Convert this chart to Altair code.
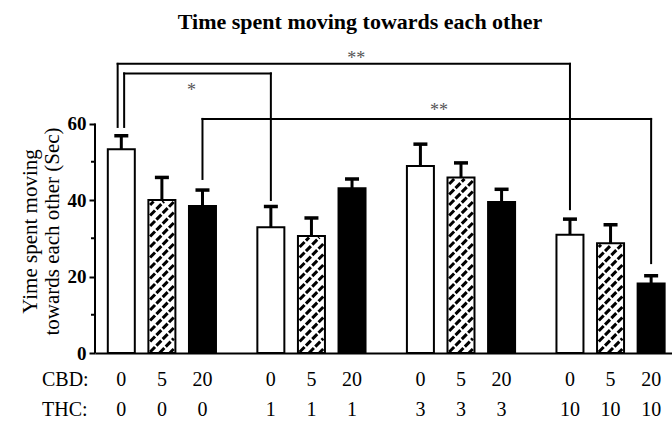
import altair as alt
import pandas as pd

# ---------------- data ----------------
cbd_labels = ["0", "5", "20", "0", "5", "20", "0", "5", "20", "0", "5", "20"]
thc_labels = ["0", "0", "0", "1", "1", "1", "3", "3", "3", "10", "10", "10"]
group_idx = [0, 0, 0, 1, 1, 1, 2, 2, 2, 3, 3, 3]
bar_idx = [0, 1, 2, 0, 1, 2, 0, 1, 2, 0, 1, 2]
fill_kind = ["open", "hatched", "solid"] * 4
means = [53.3, 40.0, 38.4, 32.9, 30.6, 43.1, 48.9, 45.9, 39.5, 30.9, 28.7, 18.2]
sems = [3.5, 5.9, 4.2, 5.4, 4.7, 2.4, 5.7, 3.8, 3.3, 4.1, 4.8, 2.0]

# significance brackets (bar indices, bracket level, end heights, label)
br_from = [0, 0, 2]
br_to = [9, 3, 11]
br_level = [75.6, 73.1, 61.2]
br_from_end = [59.1, 59.1, 45.5]
br_to_end = [37.6, 40.0, 23.5]
br_label = ["**", "*", "**"]
br_label_x = [5.79, 1.73, 7.83]
br_label_y = [78.0, 69.6, 64.4]

row_names = ["CBD:", "THC:"]
title_text = "Time spent moving towards each other"
y_title = ["Yime spent moving", "towards each other (Sec)"]
y_ticks = [0, 20, 40, 60]
y_minor = [10, 30, 50]

# ---------------- layout constants ----------------
W, H = 577, 306
XMIN, XMAX = -0.525, 13.446
YMAX = 80
GROUP_STEP = 3.685
BW = 27
PX_X = W / (XMAX - XMIN)
PX_Y = H / YMAX
SERIF = "Liberation Serif"

pos = [g * GROUP_STEP + b for g, b in zip(group_idx, bar_idx)]
df = pd.DataFrame({
    "pos": pos, "mean": means, "sem": sems, "fill": fill_kind,
    "cbd": cbd_labels, "thc": thc_labels,
})
df["top"] = df["mean"] + df["sem"]

# hatch stripes derived from bar geometry
hatch_rows = []
SP = 10.5
inset = 1.5
for p, m, k in zip(pos, means, fill_kind):
    if k != "hatched":
        continue
    w = BW - 2 * inset
    h = m * PX_Y - inset
    c = -w + 4
    while c < h:
        u0 = max(0.0, -c)
        u1 = min(w, h - c)
        if u1 > u0:
            x0 = p - BW / 2 / PX_X + (inset + u0) / PX_X
            x1 = p - BW / 2 / PX_X + (inset + u1) / PX_X
            hatch_rows.append({"x": x0, "x2": x1,
                               "y": (u0 + c) / PX_Y, "y2": (u1 + c) / PX_Y})
        c += SP
hatch_df = pd.DataFrame(hatch_rows)

nudge = [-0.09, 0.07, 0.0]
bdf = pd.DataFrame({
    "xf": [pos[i] + n for i, n in zip(br_from, nudge)],
    "xt": [pos[i] for i in br_to],
    "lvl": br_level, "yf": br_from_end, "yt": br_to_end,
    "lab": br_label, "lx": br_label_x, "ly": br_label_y,
})

xscale = alt.Scale(domain=[XMIN, XMAX], nice=False, zero=False)
yscale = alt.Scale(domain=[0, YMAX], nice=False)

bars = alt.Chart(df).mark_bar(width=BW, stroke="black", strokeWidth=2).encode(
    x=alt.X("pos:Q", scale=xscale,
            axis=alt.Axis(domain=True, domainWidth=2, domainColor="black",
                          ticks=False, labels=False, grid=False, title=None)),
    y=alt.Y("mean:Q", scale=yscale,
            axis=alt.Axis(values=y_ticks, domain=False, tickSize=6, tickWidth=2,
                          tickColor="black", labelFont=SERIF, labelFontWeight="bold",
                          labelFontSize=19, labelColor="black", labelPadding=3,
                          grid=False, title=y_title, titleFont=SERIF,
                          titleFontSize=21, titleFontWeight="normal",
                          titleColor="black", titleLineHeight=22,
                          titleX=-55, titleY=184)),
    fill=alt.Fill("fill:N", scale=alt.Scale(domain=["open", "hatched", "solid"],
                                            range=["white", "white", "black"]),
                  legend=None),
)

hatch = alt.Chart(hatch_df).mark_rule(color="black", strokeWidth=3,
                                      strokeDash=[7, 2]).encode(
    x="x:Q", x2="x2:Q", y="y:Q", y2="y2:Q")

err = alt.Chart(df).mark_rule(color="black", strokeWidth=3).encode(
    x="pos:Q", y="mean:Q", y2="top:Q")
caps = alt.Chart(df).mark_tick(orient="horizontal", size=14, thickness=3.5,
                               color="black", opacity=1).encode(
    x="pos:Q", y="top:Q")

yline = alt.Chart(pd.DataFrame({"a": [0], "b": [60]})).mark_rule(
    color="black", strokeWidth=2).encode(x=alt.value(0), y="a:Q", y2="b:Q")
minor = alt.Chart(pd.DataFrame({"v": y_minor})).mark_tick(
    orient="horizontal", size=4, thickness=2, color="black", opacity=1).encode(
    x=alt.value(-2), y="v:Q")

br_h = alt.Chart(bdf).mark_rule(color="black", strokeWidth=2, strokeCap="square").encode(
    x="xf:Q", x2="xt:Q", y="lvl:Q")
br_l = alt.Chart(bdf).mark_rule(color="black", strokeWidth=2, strokeCap="square").encode(
    x="xf:Q", y="yf:Q", y2="lvl:Q")
br_r = alt.Chart(bdf).mark_rule(color="black", strokeWidth=2, strokeCap="square").encode(
    x="xt:Q", y="yt:Q", y2="lvl:Q")
br_t = alt.Chart(bdf).mark_text(font=SERIF, fontSize=18, color="#555",
                                baseline="middle", dy=4).encode(
    x="lx:Q", y="ly:Q", text="lab:N")

cbd_t = alt.Chart(df).mark_text(font=SERIF, fontSize=20, color="black",
                                baseline="middle").encode(
    x="pos:Q", y=alt.value(333), text="cbd:N")
thc_t = alt.Chart(df).mark_text(font=SERIF, fontSize=20, color="black",
                                baseline="middle").encode(
    x="pos:Q", y=alt.value(363), text="thc:N")
rows = alt.Chart(pd.DataFrame({"r": row_names, "yy": [333, 363]})).mark_text(
    font=SERIF, fontSize=20, color="black", baseline="middle", align="left").encode(
    x=alt.value(-53), y=alt.Y("yy:Q", scale=None), text="r:N")

title = alt.Chart(pd.DataFrame({"t": [title_text]})).mark_text(
    font=SERIF, fontSize=22, fontWeight="bold", color="black", baseline="middle").encode(
    x=alt.value(265), y=alt.value(-25), text="t:N")

chart = alt.layer(bars, hatch, err, caps, yline, minor, br_h, br_l, br_r, br_t,
                  cbd_t, thc_t, rows, title).properties(
    width=W, height=H,
    autosize=alt.AutoSizeParams(type="none"),
    padding={"left": 95, "top": 47, "right": 0, "bottom": 71},
).configure_view(stroke=None)

chart.save("out.html", embed_options={"renderer": "svg", "actions": False})
